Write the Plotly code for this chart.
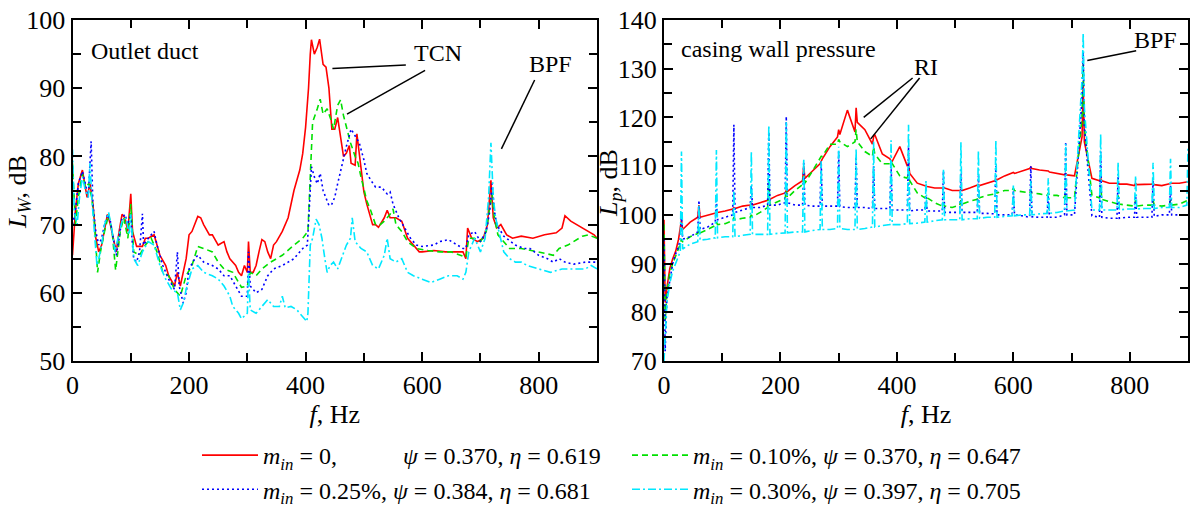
import plotly.graph_objects as go

# ---------------- Left panel: outlet duct sound power level L_W ----------------
LW_RED_F = [0,5,10,17,25,30,35,40,45,50, 60,65,70,75,80,85,90,95,100,103,
            110,120,125,130,140,145,150,160,165,175, 180,185,190,195,200,205,215,220,225,235,
            240,250,260,265,270,280,285,290,295,300, 302,305,310,315,320,325,330,335,340,345,
            350,360,370,375,380,390,395,400,405,408, 410,415,420,424,430,435,440,445,450,455,
            460,465,470,475,478,485,488,495,500,505, 510,515,520,525,535,540,545,555,565,575,
            585,595,600,620,640,660,670,675,678,685, 695,705,712,718,722,728,735,745,755,770,
            790,810,830,840,845,855,865,875,885,895, 900]
LW_RED = [65.5,72,76,78,74,76,73,68,66,67, 71.5,70,68,66,69,71.5,71,69,74.5,69,
          66.8,66.8,68,68,68.5,67,65.5,64,62.5,61, 63,61,63,65,68.5,69,71.2,71,70,68.5,
          68.5,67,67.5,66,65,64,63,62.5,64,63, 67.5,63,63,64,66,67.8,67.5,66,65,67,
          67.5,69,71,73,75,78,80.4,84.3,90,95, 97.1,95,96,97.2,93.5,93.1,90,84,84,85.7,
          83,80,80.5,81.6,79,78.7,83.3,78,74.8,73, 71.5,70,70,69.6,71,72.1,71,71,70.5,68,
          67,66,66,66.2,66,66,66,65,69.5,68, 67.5,68,70,76.5,71,69.5,70,68.5,68,68.3,
          68,68.5,68.8,69.5,71.3,70.5,70,69.5,69,68.5, 68]

LW_GREEN_F = [0,5,10,17,22,28,33,38,43,48, 55,62,68,74,82,88,95,100,105,115,
              125,135,145,155,165,175,185,195,205,215, 225,240,250,260,275,290,300,305,315,325,
              340,360,380,395,404,412,420,425,430,437, 443,448,455,460,465,470,477,485,490,495,
              500,505,512,520,528,535,545,550,555,565, 575,590,610,630,650,665,675,680,690,700,
              710,715,720,724,730,740,750,770,790,810, 825,835,850,860,875,885,895,900]
LW_GREEN = [79,70,74,77.5,75.5,76,74,70,63,66, 69,71.5,69,63.3,69,71,68,73,66,65.5,
            67,68,66,63,62.5,60.5,59.5,62.5,64,66.8, 66.5,66,64.5,63.5,63,60.8,61,63,62.5,63.5,
            64.5,65.5,67,68,69,85,87,88.4,86.2,87, 85.5,84,87.5,88.3,86,84.3,82,80,79,77,
            75,73.5,72,70,70,70.5,71.5,72.3,70,69, 67.5,66.5,66.2,66,66,65.5,65.2,68,68,67.5,
            69,72,74.5,71,68.5,67.5,66.5,66.5,66.2,65.8, 65.5,66.5,67,67.5,68.3,68.5,68.2,68]

LW_BLUE_F = [0,5,10,17,22,27,30,32,35,40, 45,50,55,60,65,70,75,80,85,90,
             95,100,102,105,110,115,120,122,130,140, 145,155,165,175,180,183,190,195,200,210,
             215,225,240,250,260,270,280,290,300,302, 305,315,325,335,345,360,370,380,395,403,
             410,415,420,425,430,435,440,445,450,455, 460,465,470,478,485,492,500,505,512,520,
             530,540,545,550,560,570,580,590,600,620, 630,645,660,670,675,680,690,700,710,716,
             720,724,728,740,760,775,785,800,815,825, 835,845,860,880,890,900]
LW_BLUE = [70,72,76,77.8,76,74,79,82.2,73,69, 67,68,70,71.5,70.5,68,65.5,68,71,71.5,
           70,71.5,68,65,64.5,66,71.6,67,68,69, 67,64,62,60.5,66,61,58.5,60,63.5,65,
           65.5,64.5,64,63.5,62.5,62.5,61,59.5,59.5,66, 61,60,60.5,62.5,63.5,64,64.5,65,66.5,67,
           78.5,77,76,77.5,75,74,72.8,73,74,76, 78,80,81.5,84,83,82,79.5,77.5,76.5,75.5,
           75.5,74.5,74.8,73,71,69.5,68,67,66.8,67, 67.5,67.8,67,66.5,66.5,68.5,69,67.5,69,72,
           76,72,70,68.3,67,66.5,66.5,65.5,65,64.5, 65,64.5,64.2,64.5,64.5,64.5]

LW_CYAN_F = [0,3,8,12,17,22,27,30,33,38, 42,45,50,55,62,68,73,78,85,92,
             97,100,105,112,120,130,140,150,160,170, 180,185,190,195,205,215,225,240,250,260,
             270,275,285,290,300,302,305,315,325,335, 345,355,360,365,375,385,395,402,404,408,
             412,418,423,428,433,437,442,448,455,462, 470,477,480,485,495,505,515,525,535,540,
             545,555,565,575,585,600,615,630,645,660, 670,675,680,690,700,708,714,718,722,726,
             732,740,750,760,770,780,800,820,840,860, 880,890,900]
LW_CYAN = [81,72,70,74,77,75,74,79,74,69, 64,65,67,70,71.8,69,66,68,70.5,71,
           68.5,71.5,65,64,66,67.5,67,64,62,60.5, 60,57.5,58.5,60.5,63.5,64,63,62.5,62,61,
           59.5,58,57,56.2,57,63,57.5,57,58,59, 58,58,59.5,57.8,58,57.5,56.5,55.8,57,67,
           68,70.8,70,68,65,63,64,64.5,63.5,65, 67,68,71,67.5,66.5,66,64,63.5,65.5,68,
           65,64.5,65,63,62.5,62,61.5,62,62.5,62.5, 62,63,66,68,66,68,74,82,74,71,
           69,66,65,64.5,64.5,64,63.5,63,63.5,63.5, 63.5,64,63.5]

# ---------------- Right panel: casing wall pressure level L_p ----------------
LP_F = [0,2,5,10,15,20,25,
        28,30,32,45, 58,60,62,75, 88,90,92,105, 118,120,122,135, 148,150,152,165,
        178,180,182,195, 208,210,212,225, 238,240,242,255, 268,270,272,285,
        298,300,302,315, 328,330,332,345, 358,360,362,375, 388,390,392,405, 418,420,422,435,
        448,450,452,465, 478,480,482,495, 508,510,512,525, 538,540,542,555, 568,570,572,585,
        598,600,602,615, 628,630,632,645, 658,660,662,675, 688,690,692,705, 718,720,722,735,
        748,750,752,765, 778,780,782,795, 808,810,812,825, 838,840,842,855, 868,870,872,885,
        898,900]
LP_RED = [99,82,85,89,91,92.5,95,
          97,99,97,98.5, 99.5,102,99.5,100, 100.5,100.5,100.5,100.8, 101.2,101.5,101.3,101.8, 102,102.3,102,102.5,
          103,103.5,103.2,104, 104.5,105,104.8,106, 107,110,107.5,109, 110.5,111,111.5,114,
          116,117.5,116.5,121.5, 117,122,119,117.5, 114.5,116,116.5,112.5, 111.5,111,111,114, 110,110.5,108.5,106.5,
          106,106,105.8,105.5, 105.5,105.5,105.5,105, 105,105.2,105,105.5, 106,106.2,106,106.5, 107,107.3,107.2,108,
          108.5,108.7,108.5,109, 109.5,109.8,109.5,109.2, 109,109,108.8,108.5, 108.2,108.5,108.2,108, 116,127,115,107.5,
          107,107.5,107,106.5, 106.5,106.5,106.3,106.3, 106,106.5,106.2,106.3, 106.3,106.5,106.2,106, 106.5,106.5,106.5,106.5,
          106.8,106.8]
LP_GREEN = [98,78,84,88,90,91.5,93,
            94,95,94.5,95.5, 96.2,97,96.3,97, 97.8,98.5,98,98.2, 98.8,99.5,99,99.3, 99.5,100,99.6,100.5,
            101.5,107,102,102.7, 103.3,105,103.5,105, 106.2,108,106.5,109, 111.5,112,112,114.5,
            114.5,115.5,115,114, 115,117.5,115,113, 112,114,112.5,110.5, 110.5,111,110.5,108, 107.5,109,107,104.5,
            103.5,104,103.5,102.5, 101.8,102.5,101.8,101.5, 102,103,102.2,102.8, 103.2,104,103.5,104, 104.3,105,104.5,105,
            105,105.5,105,104.8, 104.5,105,104.5,104.3, 104,104.5,104,104, 103.5,104.5,103.5,103.5, 120,131,118,104,
            103.5,106,103.2,102.7, 102.3,104,102.2,102, 101.8,103,101.8,102, 102,103,102,101.8, 102,103,102,102.2,
            102.8,103]
LP_BLUE = [95,72,83,87,90,92,93.5,
           95,100,95,95.5, 96.5,103,97,97.5, 98.5,103,99,99.5, 100,118.5,100.5,101, 101.5,106,101.5,101.5,
           102,117,102,102, 102.5,120.2,102.5,102, 102,111,102,101.8, 101.8,111,101.8,101.8,
           101.8,113,101.7,101.5, 101.5,112,101.5,101.5, 101.3,110,101.3,101.3, 101.3,110.5,101,101, 101,114,100.8,101,
           101,104,100.8,100.8, 100.8,109,100.5,100.5, 100.5,108.5,100.5,100.5, 100.5,108,100.3,100.3, 100.2,110,100,100,
           100,105,100,99.8, 99.5,110,99.6,99.5, 99.5,104,99.5,99.5, 100,115,100,100, 124,133.5,118,99.8,
           99.5,113,99.5,99.3, 99.3,108,99.3,99.5, 99.5,104,99.5,99.5, 99.5,107,99.7,100, 100,106,100,100,
           100,100]
LP_CYAN = [70,76,82,86,88.5,90,91.5,
           92.5,113,93,94, 94.5,102,94.8,95, 95.3,113.3,95.3,95.5, 95.5,105,95.5,95.8, 96,113,96,96,
           96,118.3,96,96.2, 96.3,119,96.3,96.5, 96.5,111.5,96.5,96.8, 97,111,97,97,
           97.2,114,97.2,97, 97,113.5,97,97.2, 97.5,115,97.5,97.8, 98,115.3,98,98, 98.2,118.5,98.2,98.3,
           98.5,107,98.5,98.8, 99,109.4,99,99, 99,114.9,99,99.2, 99.2,113.2,99.3,99.5, 99.5,115.3,99.5,99.7,
           99.8,106,99.8,100, 100,107,100,100.2, 100.3,107.5,100.3,100.5, 100.8,114.6,100.8,101, 128,137.3,122,101,
           101,116.6,101,101, 101,110.8,101,101.2, 101.2,108,101.2,101.3, 101.3,110.7,101.3,101.5, 101.5,111.5,101.5,101.5,
           102,114]

NB = "\u00a0"
SERIES_NAMES = [
    "<i>m</i><sub><i>in</i></sub> = 0," + NB * 11 + "<i>ψ</i> = 0.370, <i>η</i> = 0.619",
    "<i>m</i><sub><i>in</i></sub> = 0.10%, <i>ψ</i> = 0.370, <i>η</i> = 0.647",
    "<i>m</i><sub><i>in</i></sub> = 0.25%, <i>ψ</i> = 0.384, <i>η</i> = 0.681",
    "<i>m</i><sub><i>in</i></sub> = 0.30%, <i>ψ</i> = 0.397, <i>η</i> = 0.705",
]
COLORS = ["#ff0000", "#00e000", "#0000ff", "#00e8ff"]
DASHES = ["solid", "6px,4px", "2px,3px", "8px,3px,2px,3px"]

left = [(LW_RED_F, LW_RED), (LW_GREEN_F, LW_GREEN), (LW_BLUE_F, LW_BLUE), (LW_CYAN_F, LW_CYAN)]
right = [LP_RED, LP_GREEN, LP_BLUE, LP_CYAN]
for fx, v in left:
    assert len(fx) == len(v), (len(fx), len(v))
for v in right:
    assert len(LP_F) == len(v), (len(LP_F), len(v))

FONT = "Liberation Serif, Times New Roman, serif"
fig = go.Figure()
for i, (fx, v) in enumerate(left):
    fig.add_trace(go.Scatter(x=fx, y=v, mode="lines", name=SERIES_NAMES[i],
                             line=dict(color=COLORS[i], width=1.6, dash=DASHES[i]),
                             xaxis="x", yaxis="y", showlegend=True))
for i, v in enumerate(right):
    fig.add_trace(go.Scatter(x=LP_F, y=v, mode="lines", name=SERIES_NAMES[i],
                             line=dict(color=COLORS[i], width=1.6, dash=DASHES[i]),
                             xaxis="x2", yaxis="y2", showlegend=False))

W, H = 1190, 513
def px_x(p): return p / W
def px_y(p): return 1 - p / H

common_x = dict(range=[0, 900], dtick=200, tick0=0, ticks="inside", ticklen=9, tickwidth=1.5,
                mirror="allticks", showline=True, linecolor="black", linewidth=2,
                showgrid=False, zeroline=False, tickcolor="black", automargin=False,
                tickfont=dict(family=FONT, size=26, color="black"),
                minor=dict(dtick=100, ticks="inside", ticklen=8, tickwidth=1.5, tickcolor="black"),
                title=dict(text="<i>f</i>, Hz", font=dict(family=FONT, size=26, color="black"), standoff=2))
common_y = dict(ticks="inside", ticklen=9, tickwidth=1.5, dtick=10,
                mirror="allticks", showline=True, linecolor="black", linewidth=2,
                showgrid=False, zeroline=False, tickcolor="black", automargin=False,
                tickfont=dict(family=FONT, size=26, color="black"),
                minor=dict(dtick=5, ticks="inside", ticklen=8, tickwidth=1.5, tickcolor="black"))

fig.update_layout(
    width=W, height=H, margin=dict(l=0, r=0, t=0, b=0),
    paper_bgcolor="white", plot_bgcolor="white",
    font=dict(family=FONT, size=24, color="black"),
    xaxis=dict(domain=[px_x(72.5), px_x(597)], anchor="y", **common_x),
    yaxis=dict(domain=[px_y(361), px_y(20)], anchor="x", range=[50, 100], tick0=50, **common_y),
    xaxis2=dict(domain=[px_x(664), px_x(1188)], anchor="y2", **common_x),
    yaxis2=dict(domain=[px_y(361), px_y(20)], anchor="x2", range=[70, 140], tick0=70, **common_y),
    legend=dict(orientation="h", x=px_x(197), y=px_y(433), xanchor="left", yanchor="top",
                entrywidth=359, entrywidthmode="pixels", font=dict(family=FONT, size=24, color="black"),
                bgcolor="rgba(0,0,0,0)", itemwidth=56),
)

ann_font = dict(family=FONT, size=24, color="black")
annotations = [
    dict(text="<i>L</i><sub><i>W</i></sub>, dB", xref="paper", yref="paper", x=px_x(19), y=px_y(192),
         xanchor="center", yanchor="middle",
         textangle=-90, showarrow=False, font=dict(family=FONT, size=26, color="black")),
    dict(text="<i>L</i><sub><i>p</i></sub>, dB", xref="paper", yref="paper", x=px_x(610), y=px_y(183),
         xanchor="center", yanchor="middle",
         textangle=-90, showarrow=False, font=dict(family=FONT, size=26, color="black")),
    dict(text="Outlet duct", xref="x", yref="y", x=29, y=95.5, xanchor="left", showarrow=False, font=ann_font),
    dict(text="TCN", xref="x", yref="y", x=628, y=95.2, showarrow=False, font=ann_font),
    dict(text="BPF", xref="x", yref="y", x=820, y=93.6, showarrow=False, font=ann_font),
    dict(text="casing wall pressure", xref="x2", yref="y2", x=26, y=134, xanchor="left", showarrow=False, font=ann_font),
    dict(text="RI", xref="x2", yref="y2", x=450, y=130.3, showarrow=False, font=ann_font),
    dict(text="BPF", xref="x2", yref="y2", x=845, y=135.9, showarrow=False, font=ann_font),
]
fig.update_layout(annotations=annotations)

lines = [
    ("x", "y", 446, 92.9, 572, 93.4),
    ("x", "y", 471, 86.2, 605, 92.6),
    ("x", "y", 736, 81.1, 793, 91.2),
    ("x2", "y2", 343, 120.0, 427, 128.1),
    ("x2", "y2", 355, 115.6, 439, 128.1),
    ("x2", "y2", 727, 131.7, 811, 133.7),
]
for xr, yr, x0, y0, x1, y1 in lines:
    fig.add_shape(type="line", xref=xr, yref=yr, x0=x0, y0=y0, x1=x1, y1=y1,
                  line=dict(color="black", width=1.5))

fig.write_html("out.html", config={"displayModeBar": False},
               post_script="document.body.style.margin='0';document.body.style.padding='0';")
